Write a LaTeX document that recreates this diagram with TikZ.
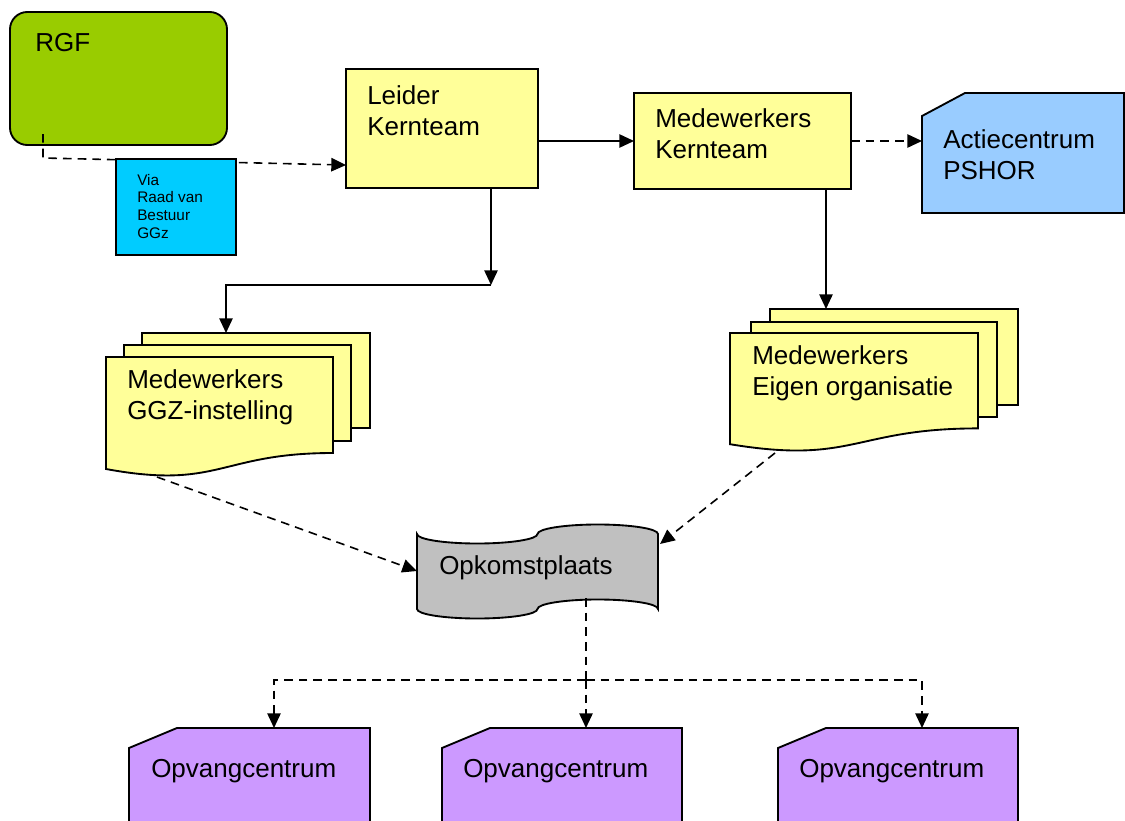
\documentclass[tikz,border=0pt]{standalone}
\usepackage{fontspec}
\setmainfont{Liberation Sans}
\usetikzlibrary{arrows.meta}
\definecolor{rgfgreen}{HTML}{99CC00}
\definecolor{viablue}{HTML}{00CCFF}
\definecolor{yel}{HTML}{FFFF99}
\definecolor{actblue}{HTML}{99CCFF}
\definecolor{tapegrey}{HTML}{C0C0C0}
\definecolor{purp}{HTML}{CC99FF}
\newcommand\mytext[1]{\begin{tabular}[t]{@{}l@{}}#1\end{tabular}}
\begin{document}
\begin{tikzpicture}[x=0.75pt,y=-0.75pt,
  box/.style={draw=black,line width=1.4pt,inner sep=0pt,outer sep=0pt,anchor=north west},
  shp/.style={draw=black,line width=1.4pt,line join=miter},
  lbl/.style={anchor=base west,inner sep=0pt,font=\fontsize{19.5}{23.25}\selectfont},
  small/.style={anchor=base west,inner sep=0pt,font=\fontsize{11.5}{13.3}\selectfont},
  conn/.style={line width=1.2pt,-{Triangle[length=11pt,width=10pt]}},
  dconn/.style={conn,dash pattern=on 6.5pt off 4.5pt},
  dline/.style={line width=1.2pt,dash pattern=on 6.5pt off 4.5pt},
]
\useasboundingbox (0,0) rectangle (1125,821);
\clip (0,0) rectangle (1125,821);

% RGF
\node[box,fill=rgfgreen,rounded corners=13pt,minimum width=162.75pt,minimum height=99.75pt] (rgf) at (10,12) {};
\node[lbl] (rgft) at (35,51) {RGF};
\coordinate (rgfp) at (43,134);
\coordinate (rgfc) at (43,158);

% Leider Kernteam
\node[box,fill=yel,minimum width=144pt,minimum height=89.25pt] (leider) at (346,69) {};
\node[lbl] (leidert) at (367,104) {\mytext{Leider\\Kernteam}};

% dashed RGF -> Leider (behind Via box)
\draw[dconn] (rgfp) -- (rgfc) -- ([yshift=-27.4pt]leider.west);

% Via box
\node[box,fill=viablue,minimum width=90pt,minimum height=72pt] (via) at (116,159) {};
\node[small] (viat) at (137,185) {\mytext{Via\\Raad van\\Bestuur\\GGz}};

% Medewerkers Kernteam
\node[box,fill=yel,minimum width=162.75pt,minimum height=72pt] (medk) at (634,93) {};
\node[lbl] (medkt) at (655,127) {\mytext{Medewerkers\\Kernteam}};

% Actiecentrum PSHOR
\draw[shp,fill=actblue] (922,116) -- (965,93) -- (1124,93) -- (1124,213) -- (922,213) -- cycle;
\coordinate (actw) at (922,141);
\node[lbl] (actt) at (943,148) {\mytext{Actiecentrum\\PSHOR}};

% connectors top row
\draw[conn] (leider.east |- medk.west) -- (medk.west);
\draw[dconn] (medk.east) -- (actw);

% GGZ stack
\draw[shp,fill=yel] (142,333) rectangle (370,428);
\draw[shp,fill=yel] (124,345) rectangle (351,441);
\draw[shp,fill=yel] (106,357) -- (333,357) -- (333,453) .. controls (219.5,453) and (219.5,490) .. (106,469) -- cycle;
\coordinate (ggztop) at (226,333);
\coordinate (ggzbot) at (157,477);
\node[lbl] (ggzt) at (127,388) {\mytext{Medewerkers\\GGZ-instelling}};

% Eigen organisatie stack
\draw[shp,fill=yel] (770,309) rectangle (1018,405);
\draw[shp,fill=yel] (751,322) rectangle (997,417);
\draw[shp,fill=yel] (730,333) -- (978,333) -- (978,428.4) .. controls (854,428.4) and (854,464.8) .. (730,444.2) -- cycle;
\coordinate (eigtop) at (826,309);
\coordinate (eigbot) at (775,453);
\node[lbl] (eigt) at (752,364) {\mytext{Medewerkers\\Eigen organisatie}};

% Leider -> GGZ
\coordinate (ls) at (491,188);
\coordinate (j1) at (491,285);
\coordinate (j2) at (226,285);
\draw[conn] (ls) -- (j1);
\draw[conn] (j1) -- (j2) -- (ggztop);

% MedK -> Eigen
\coordinate (ms) at (826,189);
\draw[conn] (ms) -- (eigtop);

% Opkomstplaats (punched tape)
\draw[shp,fill=tapegrey] (417,534)
  .. controls (417,539.25) and (443.97,543.5) .. (477.25,543.5)
  .. controls (510.53,543.5) and (537.5,539.25) .. (537.5,534)
  .. controls (537.5,528.75) and (564.47,524.5) .. (597.75,524.5)
  .. controls (631.03,524.5) and (658,528.75) .. (658,534)
  -- (658,609)
  .. controls (658,603.75) and (631.03,599.5) .. (597.75,599.5)
  .. controls (564.47,599.5) and (537.5,603.75) .. (537.5,609)
  .. controls (537.5,614.25) and (510.53,618.5) .. (477.25,618.5)
  .. controls (443.97,618.5) and (417,614.25) .. (417,609) -- cycle;
\coordinate (tapel) at (417,571);
\coordinate (taper) at (660,544);
\coordinate (tapeb) at (586,598);
\node[lbl] (tapet) at (439,574) {Opkomstplaats};

\draw[dconn] (ggzbot) -- (tapel);
\draw[dconn] (eigbot) -- (taper);

% Opvangcentra
\draw[shp,fill=purp] (129,748) -- (177,728) -- (370,728) -- (370,830) -- (129,830) -- cycle;
\draw[shp,fill=purp] (442,748) -- (490,728) -- (682,728) -- (682,830) -- (442,830) -- cycle;
\draw[shp,fill=purp] (778,748) -- (826,728) -- (1018,728) -- (1018,830) -- (778,830) -- cycle;
\coordinate (o1) at (274,728);
\coordinate (o2) at (586,728);
\coordinate (o3) at (922,728);
\node[lbl] (o1t) at (151,777) {Opvangcentrum};
\node[lbl] (o2t) at (463,777) {Opvangcentrum};
\node[lbl] (o3t) at (799,777) {Opvangcentrum};

\coordinate (hub) at (586,680);
\draw[dline] (tapeb) -- (hub);
\draw[dconn] (hub) -| (o1);
\draw[dconn] (hub) -- (o2);
\draw[dconn] (hub) -| (o3);
\end{tikzpicture}
\end{document}
